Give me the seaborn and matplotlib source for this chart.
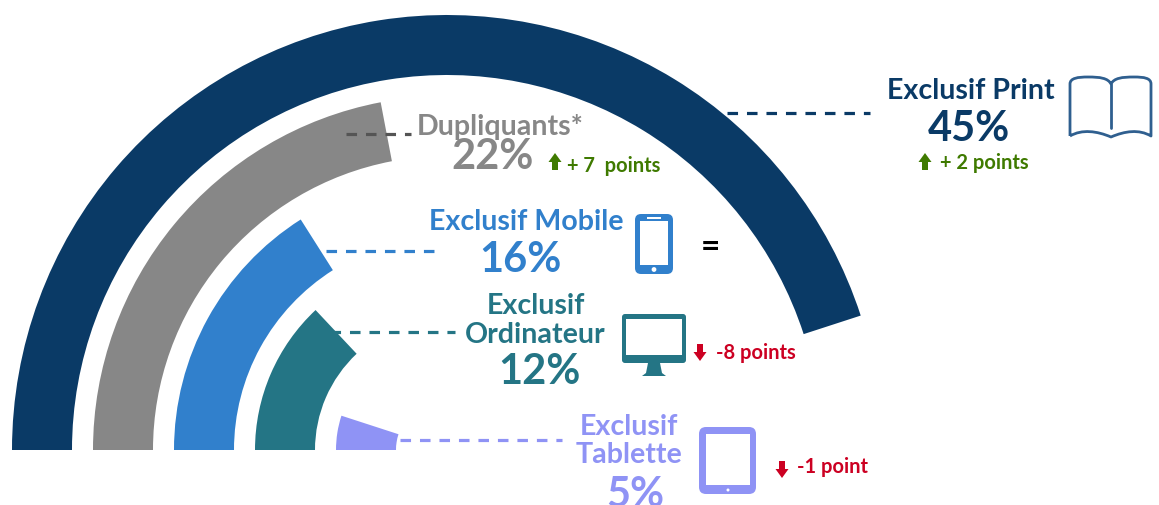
import numpy as np
import pandas as pd
import matplotlib
matplotlib.use("Agg")
import matplotlib.pyplot as plt
import seaborn as sns
from matplotlib.patches import FancyBboxPatch, Polygon, Rectangle, Circle, PathPatch
from matplotlib.path import Path

# ── Data ──────────────────────────────────────────────────────────────────────
segments = ["Exclusif Print", "Dupliquants", "Exclusif Mobile", "Exclusif Ordinateur", "Exclusif Tablette"]
shares = [45, 22, 16, 13, 5]      # swept angle, % of a full circle (as drawn)
rings = [5, 4, 3, 2, 1]
colors = ["#0A3A66", "#878787", "#3180CC", "#247585", "#8F93F5"]

W, H = 1159, 505
NAVY, GREY, BLUE, TEAL, LAV = colors
GREEN = "#3F7A00"
RED = "#CC0022"
TITLE = 20.6
BIG = 30
SMALL = 14.5

sns.set_theme(style="white")
plt.rcParams["font.family"] = ["Lato", "DejaVu Sans"]
plt.rcParams["font.weight"] = "bold"

fig = plt.figure(figsize=(W / 100, H / 100), dpi=100, facecolor="white")


# ── Arcs: horizontal seaborn bars on a polar axes ─────────────────────────────
RING_PX = 81.0
CX, CY = 447, 450
RMAX = 5.6
half = RMAX * RING_PX
ax = fig.add_axes([(CX - half) / W, (H - CY - half) / H, 2 * half / W, 2 * half / H], projection="polar")
ax.set_theta_zero_location("W")
ax.set_theta_direction(-1)

df = pd.DataFrame({"segment": segments, "share": shares, "ring": rings})
df["sweep"] = df["share"] / 100 * 2 * np.pi

sns.barplot(data=df, x="sweep", y="ring", hue="segment", hue_order=segments, palette=colors,
            orient="h", native_scale=True, dodge=False, width=60 / RING_PX, saturation=1,
            legend=False, ax=ax, linewidth=0)
ax.set_rlim(0, RMAX)
ax.set_thetalim(0, 2 * np.pi)
ax.axis("off")


# ── Overlay in pixel coordinates for labels and icons ─────────────────────────
ov = fig.add_axes([0, 0, 1, 1], facecolor="none")
ov.set_xlim(0, W)
ov.set_ylim(H, 0)
ov.axis("off")


def leader(x0, x1, y, color):
    ov.plot([x0, x1], [y, y], color=color, lw=2.3, dashes=(3.3, 2.8), dash_capstyle="butt", zorder=3)


def label(x, y, s, color, size, ha="center"):
    ov.text(x, y, s, color=color, fontsize=size, ha=ha, va="center", fontweight="bold", clip_on=False)


def arrow(x, y, color, up=True):
    d = -1 if up else 1
    pts = [(x - 3, y - d * 8), (x + 3, y - d * 8), (x + 3, y), (x + 6.5, y),
           (x, y + d * 9), (x - 6.5, y), (x - 3, y)]
    ov.add_patch(Polygon(pts, closed=True, fc=color, ec="none"))


def rounded(x0, y0, x1, y1, r, fc):
    ov.add_patch(FancyBboxPatch((x0 + r, y0 + r), x1 - x0 - 2 * r, y1 - y0 - 2 * r,
                                boxstyle=f"round,pad={r},rounding_size={r}", fc=fc, ec="none", lw=0))


leader(727, 870, 113, NAVY)
leader(346, 411, 134, "#555555")
leader(326, 435, 251, BLUE)
leader(330, 455, 332, TEAL)
leader(400, 562, 440, LAV)

# Print
label(971, 91, "Exclusif Print", NAVY, TITLE)
label(969, 129, "45%", NAVY, BIG)
arrow(925, 162, GREEN)
label(940, 163, "+ 2 points", GREEN, SMALL, ha="left")

# Dupliquants
label(500, 127, "Dupliquants*", GREY, TITLE)
label(493, 157, "22%", GREY, BIG)
arrow(555, 162, GREEN)
label(567, 166, "+ 7  points", GREEN, SMALL, ha="left")

# Mobile
label(526, 222, "Exclusif Mobile", BLUE, TITLE)
label(520, 260, "16%", BLUE, BIG)
label(710, 247, "=", "black", 24)

# Ordinateur
label(536, 306, "Exclusif", TEAL, TITLE)
label(535, 335, "Ordinateur", TEAL, TITLE)
label(539, 372, "12%", TEAL, BIG)
arrow(700, 352, RED, up=False)
label(716, 353, "-8 points", RED, SMALL, ha="left")

# Tablette
label(629, 427, "Exclusif", LAV, TITLE)
label(629, 455, "Tablette", LAV, TITLE)
label(635, 495, "5%", LAV, BIG)
arrow(782, 469, RED, up=False)
label(797, 467, "-1 point", RED, SMALL, ha="left")

# ── Icons ─────────────────────────────────────────────────────────────────────
# book
M, L, C = Path.MOVETO, Path.LINETO, Path.CURVE4
book_pts = [(1070, 136), (1070, 84),
            (1070, 78), (1078, 77), (1088, 77),
            (1100, 77), (1108, 78), (1111, 84),
            (1114, 78), (1122, 77), (1134, 77),
            (1144, 77), (1151, 78), (1151, 84),
            (1151, 136),
            (1139, 129), (1125, 131), (1111, 137),
            (1097, 131), (1082, 129), (1070, 136)]
book_codes = [M, L, C, C, C, C, C, C, C, C, C, C, C, C, L, C, C, C, C, C, C]
ov.add_patch(PathPatch(Path(book_pts, book_codes), fc="none", ec="#2F5F8F", lw=2.0, joinstyle="round"))
ov.plot([1111, 1111], [84, 128], color="#2F5F8F", lw=2.0)

# phone
rounded(635, 214, 673, 274, 6, BLUE)
ov.add_patch(Rectangle((640, 221), 28, 44, fc="white", ec="none"))
ov.add_patch(Rectangle((647, 217), 14, 2, fc="white", ec="none"))
ov.add_patch(Circle((654, 269.5), 2.4, fc="white", ec="none"))

# monitor
rounded(622, 314, 686, 363, 3, TEAL)
ov.add_patch(Rectangle((626, 319), 56, 36, fc="white", ec="none"))
ov.add_patch(Polygon([(648, 363), (660, 363), (662, 373), (666, 376), (642, 376), (646, 373)], fc=TEAL, ec="none"))

# tablet
rounded(699, 427, 756, 494, 7, LAV)
ov.add_patch(Rectangle((706, 434), 44, 51, fc="white", ec="none"))
ov.add_patch(Circle((728, 490), 1.5, fc="white", ec="none"))

plt.savefig("out.png", dpi=100)
plt.close()
